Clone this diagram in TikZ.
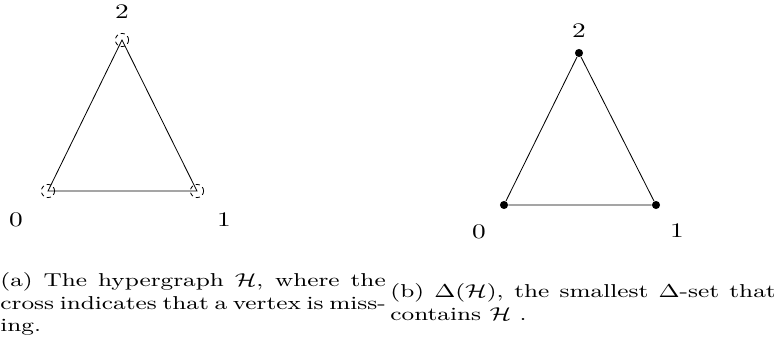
\documentclass[tikz,border=0pt]{standalone}
\usepackage{graphicx, tikz}

\newcommand{\widetext}[1]{\scalebox{1.32}[1]{#1}}

\begin{document}
\begin{tikzpicture}[x=0.483pt, y=-0.483pt,
	missing/.style={circle, dash pattern=on 2pt off 1.6pt, draw, inner sep=0pt, minimum size=6.4pt},
	vertex/.style={circle, fill, inner sep=0pt, minimum size=3.9pt},
	caption/.style={anchor=west, inner sep=0pt}]
			\useasboundingbox (0,0) rectangle (774,352);
			% (a) the hypergraph
			\node[missing] (a0) at (48,191) {};
			\node[missing] (a1) at (197,191) {};
			\node[missing] (a2) at (122,40) {};
			\draw (a0.center) -- (a1.center) -- (a2.center) -- cycle;
			\node (la0) at (16,220) {\widetext{0}};
			\node (la1) at (224,220) {\widetext{1}};
			\node (la2) at (122,12) {\widetext{2}};
			% (b) the Delta-set
			\node[vertex] (b0) at (504,205) {};
			\node[vertex] (b1) at (656,205) {};
			\node[vertex] (b2) at (579,53) {};
			\draw (b0) -- (b1) -- (b2) -- (b0);
			\node (lb0) at (479,232) {\widetext{0}};
			\node (lb1) at (677,231) {\widetext{1}};
			\node (lb2) at (579,31) {\widetext{2}};
			% captions
			\node[caption] (capa) at (0,304) {\widetext{\parbox{141pt}{\small (a) The hypergraph $\mathcal{H}$, where the cross indicates that a vertex is miss\-ing.}}};
			\node[caption] (capb) at (390,302) {\widetext{\parbox{141pt}{\small (b) $\Delta(\mathcal{H})$, the smallest $\Delta$-set that contains $\mathcal{H}$ .}}};
			\end{tikzpicture}
\end{document}
